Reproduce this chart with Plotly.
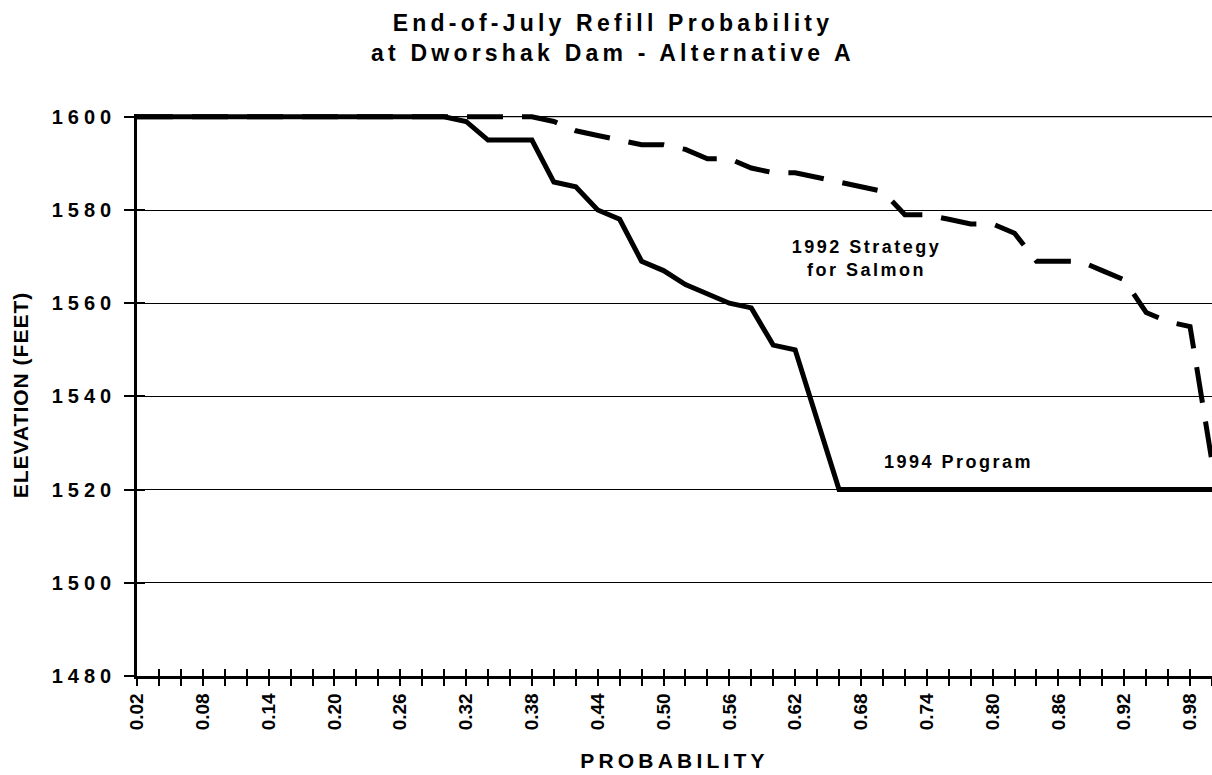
import plotly.graph_objects as go

# ---------------- data ----------------
PROBABILITY = [0.02, 0.04, 0.06, 0.08, 0.10, 0.12, 0.14, 0.16, 0.18, 0.20,
               0.22, 0.24, 0.26, 0.28, 0.30, 0.32, 0.34, 0.36, 0.38, 0.40,
               0.42, 0.44, 0.46, 0.48, 0.50, 0.52, 0.54, 0.56, 0.58, 0.60,
               0.62, 0.64, 0.66, 0.68, 0.70, 0.72, 0.74, 0.76, 0.78, 0.80,
               0.82, 0.84, 0.86, 0.88, 0.90, 0.92, 0.94, 0.96, 0.98, 1.00]

PROGRAM_1994 = [1600, 1600, 1600, 1600, 1600, 1600, 1600, 1600, 1600, 1600,
                1600, 1600, 1600, 1600, 1600, 1599, 1595, 1595, 1595, 1586,
                1585, 1580, 1578, 1569, 1567, 1564, 1562, 1560, 1559, 1551,
                1550, 1535, 1520, 1520, 1520, 1520, 1520, 1520, 1520, 1520,
                1520, 1520, 1520, 1520, 1520, 1520, 1520, 1520, 1520, 1520]

STRATEGY_1992 = [1600, 1600, 1600, 1600, 1600, 1600, 1600, 1600, 1600, 1600,
                 1600, 1600, 1600, 1600, 1600, 1600, 1600, 1600, 1600, 1599,
                 1597, 1596, 1595, 1594, 1594, 1593, 1591, 1591, 1589, 1588,
                 1588, 1587, 1586, 1585, 1584, 1579, 1579, 1578, 1577, 1577,
                 1575, 1569, 1569, 1569, 1567, 1565, 1558, 1556, 1555, 1526]

X_TICK_LABELS = ["0.02", "0.08", "0.14", "0.20", "0.26", "0.32", "0.38", "0.44",
                 "0.50", "0.56", "0.62", "0.68", "0.74", "0.80", "0.86", "0.92", "0.98"]
Y_TICKS = [1480, 1500, 1520, 1540, 1560, 1580, 1600]

TITLE = "End-of-July Refill Probability<br>at Dworshak Dam - Alternative A"
X_TITLE = "PROBABILITY"
Y_TITLE = "ELEVATION (FEET)"
LABEL_1992 = "1992 Strategy<br>for Salmon"
LABEL_1994 = "1994 Program"

FONT = "Arial, 'Liberation Sans', Helvetica, sans-serif"

x_ticktext = [f"{p:.2f}" if f"{p:.2f}" in X_TICK_LABELS else "" for p in PROBABILITY]

fig = go.Figure()
fig.add_trace(go.Scatter(
    x=PROBABILITY, y=STRATEGY_1992, mode="lines", name="1992 Strategy for Salmon",
    line=dict(color="black", width=5, dash="36px,19px"), hoverinfo="x+y"))
fig.add_trace(go.Scatter(
    x=PROBABILITY, y=PROGRAM_1994, mode="lines", name="1994 Program",
    line=dict(color="black", width=5), hoverinfo="x+y"))
# invisible trace that carries the overlay axes (crossing tick marks)
fig.add_trace(go.Scatter(
    x=PROBABILITY, y=PROGRAM_1994, xaxis="x2", yaxis="y2", mode="lines",
    line=dict(width=0), opacity=0, hoverinfo="skip", showlegend=False))

x_range = [PROBABILITY[0], PROBABILITY[-1]]
y_range = [Y_TICKS[0], Y_TICKS[-1] + 0.6]

fig.update_layout(
    width=1212, height=775,
    margin=dict(l=137, r=0, t=114, b=99),
    paper_bgcolor="white", plot_bgcolor="white",
    showlegend=False,
    font=dict(family=FONT, color="black"),
    title=dict(text=TITLE, x=613 / 1212, xref="container", xanchor="center",
               y=1 - 31 / 775, yref="container", yanchor="top",
               font=dict(family=FONT, size=23, weight="bold", color="black")),
    xaxis=dict(
        range=x_range, tickmode="array", tickvals=PROBABILITY, ticktext=x_ticktext,
        tickangle=-90, ticks="outside", ticklen=7, tickwidth=2, tickcolor="black",
        showline=True, linecolor="black", linewidth=2.5, showgrid=False, zeroline=False,
        tickfont=dict(family=FONT, size=19, weight="bold", color="black"),
        title=dict(text=X_TITLE, standoff=24,
                   font=dict(family=FONT, size=21, weight="bold", color="black")),
    ),
    xaxis2=dict(
        overlaying="x", matches="x", anchor="y", side="bottom",
        tickmode="array", tickvals=PROBABILITY, showticklabels=False,
        ticks="inside", ticklen=7, tickwidth=2, tickcolor="black",
        showline=False, showgrid=False, zeroline=False,
    ),
    yaxis=dict(
        range=y_range, tickmode="array", tickvals=Y_TICKS,
        ticks="outside", ticklen=10, tickwidth=2, tickcolor="black",
        ticklabelstandoff=4,
        showline=True, linecolor="black", linewidth=2.5,
        showgrid=True, gridcolor="black", gridwidth=1, zeroline=False,
        tickfont=dict(family=FONT, size=20, weight="bold", color="black"),
        title=dict(text=Y_TITLE, standoff=38,
                   font=dict(family=FONT, size=21, weight="bold", color="black")),
    ),
    yaxis2=dict(
        overlaying="y", matches="y", anchor="x", side="left",
        tickmode="array", tickvals=Y_TICKS, showticklabels=False,
        ticks="inside", ticklen=8, tickwidth=2, tickcolor="black",
        showline=False, showgrid=False, zeroline=False,
    ),
    annotations=[
        dict(text=LABEL_1992, x=0.685, y=1569.5, xref="x", yref="y",
             showarrow=False, align="center",
             font=dict(family=FONT, size=18, weight="bold", color="black")),
        dict(text=LABEL_1994, x=0.769, y=1526.0, xref="x", yref="y",
             showarrow=False, align="center",
             font=dict(family=FONT, size=18, weight="bold", color="black")),
    ],
    shapes=[dict(type="line", xref="paper", x0=0, x1=1, yref="y",
                 y0=Y_TICKS[-1], y1=Y_TICKS[-1],
                 line=dict(color="#808080", width=1.5), layer="below")],
)

post = """
document.body.style.margin = '0';
document.body.style.overflow = 'hidden';
var gd = document.getElementById('{plot_id}');
function sp(sel, v){ gd.querySelectorAll(sel).forEach(function(t){ t.style.letterSpacing = v; }); }
sp('.gtitle', '4.2px');
sp('g.ytick text', '5px');
sp('.ytitle', '1px');
sp('.xtitle', '4.2px');
sp('.annotation-text', '2.5px');
"""

fig.write_html("out.html", post_script=post, config={"displayModeBar": False})
